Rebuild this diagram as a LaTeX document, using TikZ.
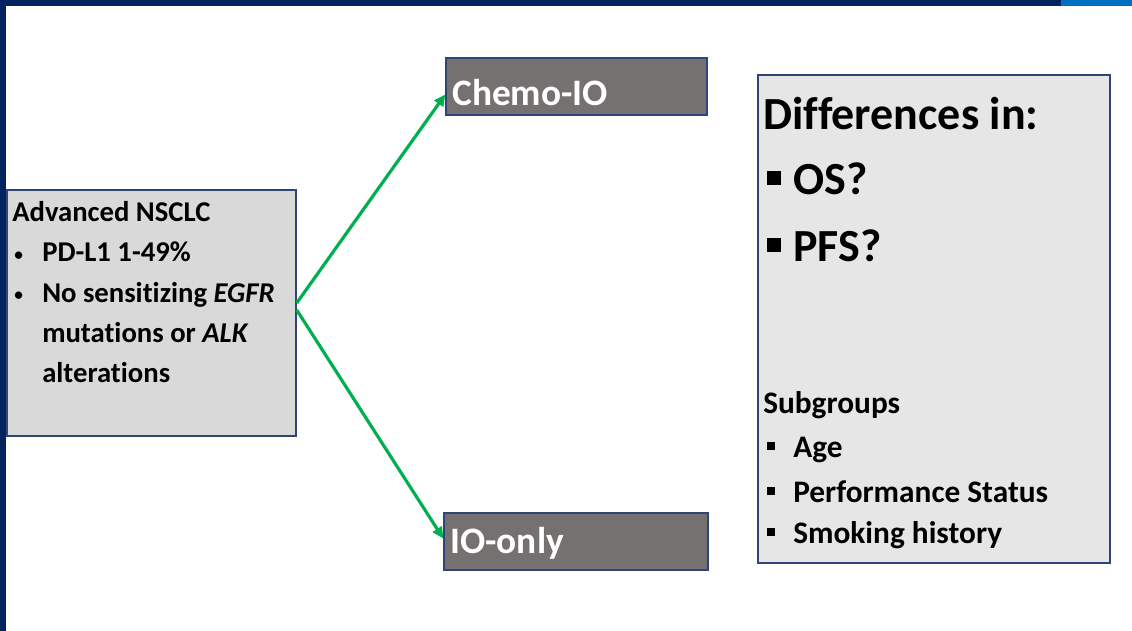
\documentclass[tikz,border=0pt]{standalone}
\usepackage{fontspec}
\setmainfont{Carlito}[Ligatures=CommonOff]
\usetikzlibrary{arrows.meta,calc}

\definecolor{barnavy}{RGB}{0,35,95}
\definecolor{barblue}{RGB}{0,112,192}
\definecolor{edgenavy}{RGB}{47,69,120}
\definecolor{boxlight}{RGB}{217,217,217}
\definecolor{boxpale}{RGB}{230,230,230}
\definecolor{boxdark}{RGB}{118,113,113}
\definecolor{arrowgreen}{RGB}{0,176,80}

\newcommand{\dotbullet}{\makebox[22.5pt][l]{\hspace{1.5pt}\raisebox{1.5pt}{\fontsize{13}{13}\selectfont •}}}
\newcommand{\bigsquare}{\makebox[19.5pt][l]{\rule[7.5pt]{10.5pt}{10.5pt}}}
\newcommand{\smallsquare}{\makebox[19.5pt][l]{\rule[5.25pt]{6pt}{6pt}}}

\begin{document}
\begin{tikzpicture}[x=0.75pt,y=0.75pt,yscale=-1,xscale=1,
  box/.style={draw=edgenavy,line width=1.1pt,inner sep=0pt},
  armbox/.style={box,fill=boxdark,minimum width=196pt,minimum height=42.75pt},
  branch/.style={draw=arrowgreen,line width=2.4pt,-{Triangle[length=8.5pt,width=8pt]}},
  lefttext/.style={anchor=base west,inner sep=0pt,font=\fontsize{21.5}{26}\selectfont\bfseries},
  armtext/.style={anchor=base west,inner sep=0pt,text=white,font=\fontsize{28}{34}\selectfont\bfseries},
  bigtext/.style={anchor=base west,inner sep=0pt,font=\fontsize{34.5}{41}\selectfont\bfseries},
  subtext/.style={anchor=base west,inner sep=0pt,font=\fontsize{23.5}{28}\selectfont\bfseries}]
\useasboundingbox (0,0) rectangle (1132,631);

%Shape: Rectangle (frame bars)
\fill [barnavy] (0,0) rectangle (1061,6);
\fill [barblue] (1061,0) rectangle (1132,6);
\fill [barnavy] (0,0) rectangle (6,631);

%Shape: Rectangle
\node [box,fill=boxlight,minimum width=216.75pt,minimum height=184.5pt] (nsclc) at (151.5,313) {};
%Shape: Rectangle
\node [armbox,minimum width=195.75pt] (chemo) at (576.5,86.5) {};
%Shape: Rectangle
\node [armbox,minimum width=198pt] (ioonly) at (576,541.5) {};
%Shape: Rectangle
\node [box,fill=boxpale,minimum width=264pt,minimum height=366pt] (diff) at (934,319) {};

%Straight Lines
\draw [branch] ($(nsclc.east)+(0,-10)$) -- ($(chemo.west)+(0,8)$);
%Straight Lines
\draw [branch] ($(nsclc.east)+(0,-3)$) -- ($(ioonly.west)+(0,-3)$);

% Text Node
\node [lefttext] (nsclctitle) at (12,222) {Advanced NSCLC};
% Text Node
\node [lefttext] (pdl1) at (12,262) {\dotbullet PD-L1 1-49\%};
% Text Node
\node [lefttext] (driverone) at (12,302) {\dotbullet No sensitizing \textit{EGFR}};
% Text Node
\node [lefttext] (drivertwo) at (42,342) {mutations or \textit{ALK}};
% Text Node
\node [lefttext] (driverthree) at (42,382) {alterations};

% Text Node
\node [armtext] (chemolabel) at (452,106) {Chemo-IO};
% Text Node
\node [armtext] (iolabel) at (450,553) {IO-only};

% Text Node
\node [bigtext] (difftitle) at (763,130) {Differences in:};
% Text Node
\node [bigtext] (os) at (767,195) {\bigsquare OS?};
% Text Node
\node [bigtext] (pfs) at (767,262) {\bigsquare PFS?};
% Text Node
\node [subtext] (subgroups) at (763,413) {Subgroups};
% Text Node
\node [subtext] (age) at (767,457) {\smallsquare Age};
% Text Node
\node [subtext] (perf) at (767,502) {\smallsquare Performance Status};
% Text Node
\node [subtext] (smoking) at (767,543) {\smallsquare Smoking history};
\end{tikzpicture}
\end{document}
